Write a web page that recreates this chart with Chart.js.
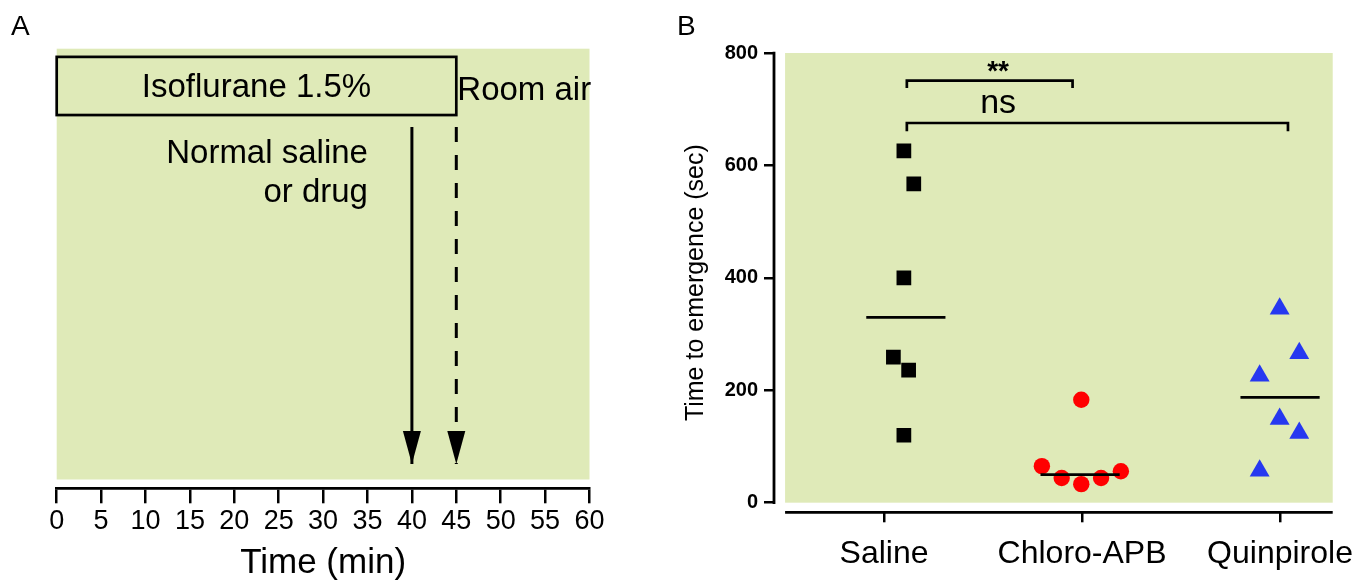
<!DOCTYPE html>
<html>
<head>
<meta charset="utf-8">
<script src="https://cdn.jsdelivr.net/npm/chart.js@4.4.1/dist/chart.umd.min.js"></script>
<style>
  html, body { margin: 0; padding: 0; background: #fff; }
  #wrap { position: relative; width: 1369px; height: 582px; overflow: hidden; }
  canvas { position: absolute; top: 0; }
  #panelA { left: 0; }
  #panelB { left: 620px; }
</style>
</head>
<body>
<div id="wrap">
  <canvas id="panelA" width="620" height="582"></canvas>
  <canvas id="panelB" width="749" height="582"></canvas>
</div>
<script>
// ---- panel A : protocol timeline (minutes) ----
const timeMin = 0;
const timeMax = 60;
const phaseNames = ['Isoflurane 1.5%', 'Room air'];
const phaseStart = [0, 45];
const phaseEnd = [45, 60];
const eventTimes = [40, 45];            // injection, isoflurane off
const eventDashed = [false, true];
const eventLabel = ['Normal saline', 'or drug'];

// ---- panel B : time to emergence (sec) ----
const groups = ['Saline', 'Chloro-APB', 'Quinpirole'];
const salineVals = [626, 567, 400, 259, 236, 120];
const salineX = [0.10, 0.15, 0.10, 0.047, 0.124, 0.10];
const chloroVals = [65, 44, 33, 183, 44, 56];
const chloroX = [0.797, 0.897, 0.996, 0.996, 1.096, 1.196];
const quinVals = [345, 266, 226, 149, 124, 57];
const quinX = [1.998, 2.097, 1.897, 1.998, 2.097, 1.897];
const medianX = [0.11, 0.99, 2.0];
const yTicks = [0, 200, 400, 600, 800];
const comparisons = [['**', 0, 1], ['ns', 0, 2]];

const FONT = '"Liberation Sans", Arial, Helvetica, sans-serif';
const GREEN = '#dfeab8';
Chart.defaults.font.family = FONT;
Chart.defaults.color = '#000';

function median(arr) {
    const s = arr.slice().sort((a, b) => a - b);
    const m = Math.floor(s.length / 2);
    return s.length % 2 ? s[m] : (s[m - 1] + s[m]) / 2;
}

// schematic y units for panel A go 0..100 (bottom..top of the green field)
const boxTop = 98.1, boxBottom = 84.6;
const arrowTop = 81.8, arrowTip = 3.6;

const panelAPlugin = {
    id: 'panelADecor',
    beforeDatasetsDraw(chart) {
        const {ctx, scales: {x, y}} = chart;
        ctx.save();
        ctx.fillStyle = GREEN;
        ctx.fillRect(x.getPixelForValue(timeMin), y.getPixelForValue(100),
            x.getPixelForValue(timeMax) - x.getPixelForValue(timeMin),
            y.getPixelForValue(0) - y.getPixelForValue(100));

        // isoflurane box
        const bx1 = x.getPixelForValue(phaseStart[0]), bx2 = x.getPixelForValue(phaseEnd[0]);
        const by1 = y.getPixelForValue(boxTop), by2 = y.getPixelForValue(boxBottom);
        ctx.strokeStyle = '#000';
        ctx.lineWidth = 2.7;
        ctx.strokeRect(bx1, by1, bx2 - bx1, by2 - by1);

        ctx.fillStyle = '#000';
        ctx.font = '33px ' + FONT;
        ctx.textBaseline = 'middle';
        ctx.textAlign = 'center';
        ctx.fillText(phaseNames[0], (bx1 + bx2) / 2, y.getPixelForValue(90.9));
        ctx.textAlign = 'left';
        ctx.fillText(phaseNames[1], x.getPixelForValue(phaseStart[1]) + 1, y.getPixelForValue(90.2));

        ctx.textAlign = 'right';
        ctx.fillText(eventLabel[0], x.getPixelForValue(35.05), y.getPixelForValue(75.6));
        ctx.fillText(eventLabel[1], x.getPixelForValue(35.05), y.getPixelForValue(66.5));

        ctx.font = '28px ' + FONT;
        ctx.textAlign = 'left';
        ctx.textBaseline = 'alphabetic';
        ctx.fillText('A', 11, 35);
        ctx.restore();
    },
    afterDatasetsDraw(chart) {
        const {ctx} = chart;
        ctx.save();
        ctx.fillStyle = '#000';
        chart.data.datasets.forEach((ds, i) => {
            const pts = chart.getDatasetMeta(i).data;
            const tip = pts[pts.length - 1];
            ctx.beginPath();
            ctx.moveTo(tip.x, tip.y);
            ctx.lineTo(tip.x - 9, tip.y - 33);
            ctx.lineTo(tip.x + 9, tip.y - 33);
            ctx.closePath();
            ctx.fill();
        });
        ctx.restore();
    }
};

new Chart(document.getElementById('panelA'), {
    type: 'scatter',
    data: {
        datasets: eventTimes.map((t, i) => ({
            data: [{x: t, y: arrowTop}, {x: t, y: arrowTip}],
            showLine: true,
            borderColor: '#000',
            borderWidth: 3,
            borderDash: eventDashed[i] ? [15, 13] : [],
            pointRadius: 0
        }))
    },
    options: {
        responsive: false,
        animation: false,
        devicePixelRatio: 1,
        layout: {padding: {left: 56.7, right: 30.5, top: 48.7, bottom: 0}},
        plugins: {legend: {display: false}, tooltip: {enabled: false}},
        scales: {
            x: {
                type: 'linear', min: timeMin, max: timeMax,
                afterFit: s => { s.height = 93.7; },
                grid: {display: true, drawOnChartArea: false, drawTicks: true, tickLength: 15, color: '#000', lineWidth: 2.5},
                border: {display: true, color: '#000', width: 2.7},
                ticks: {stepSize: 5, font: {size: 27}, padding: 2, maxRotation: 0, autoSkip: false, color: '#000'},
                title: {display: true, text: 'Time (min)', font: {size: 35}, padding: {top: 0, bottom: -2}, color: '#000'}
            },
            y: {type: 'linear', min: -2.04, max: 100, display: false}
        }
    },
    plugins: [panelAPlugin]
});

// ---- panel B ----
const groupVals = [salineVals, chloroVals, quinVals];
const bracketY = [750.8, 675.5];
const bracketDrop = [13, 14.5];
const bracketEnds = [0.115, 0.952, 2.04];

const panelBPlugin = {
    id: 'panelBDecor',
    beforeDatasetsDraw(chart) {
        const {ctx, chartArea, scales: {x, y}} = chart;
        ctx.save();
        const gx = x.getPixelForValue(-0.5);
        ctx.fillStyle = GREEN;
        ctx.fillRect(gx, y.getPixelForValue(800), chartArea.right - gx, y.getPixelForValue(0) - y.getPixelForValue(800));

        ctx.strokeStyle = '#000';
        ctx.lineWidth = 2.8;
        ctx.beginPath();
        ctx.moveTo(chartArea.left, y.getPixelForValue(800) - 1.2);
        ctx.lineTo(chartArea.left, y.getPixelForValue(0) + 1.2);
        ctx.moveTo(gx, chartArea.bottom);
        ctx.lineTo(chartArea.right, chartArea.bottom);
        ctx.stroke();

        ctx.fillStyle = '#000';
        ctx.font = '28px ' + FONT;
        ctx.textBaseline = 'alphabetic';
        ctx.fillText('B', 57, 35);
        ctx.restore();
    },
    afterDatasetsDraw(chart) {
        const {ctx, scales: {x, y}} = chart;
        ctx.save();
        ctx.strokeStyle = '#000';
        ctx.fillStyle = '#000';
        ctx.lineWidth = 2.7;
        comparisons.forEach((c, i) => {
            const x1 = x.getPixelForValue(bracketEnds[c[1]]);
            const x2 = x.getPixelForValue(bracketEnds[c[2]]);
            const yt = y.getPixelForValue(bracketY[i]);
            const yb = y.getPixelForValue(bracketY[i] - bracketDrop[i]);
            ctx.beginPath();
            ctx.moveTo(x1, yb);
            ctx.lineTo(x1, yt);
            ctx.lineTo(x2, yt);
            ctx.lineTo(x2, yb);
            ctx.stroke();
        });
        ctx.textAlign = 'center';
        ctx.textBaseline = 'alphabetic';
        ctx.font = 'bold 28px ' + FONT;
        ctx.fillText(comparisons[0][0], x.getPixelForValue(0.576), y.getPixelForValue(752));
        ctx.font = '34px ' + FONT;
        ctx.fillText(comparisons[1][0], x.getPixelForValue(0.576), y.getPixelForValue(693));
        ctx.restore();
    }
};

const pointSets = [
    {xs: salineX, ys: salineVals, style: 'rect', r: 10.4, color: '#000000'},
    {xs: chloroX, ys: chloroVals, style: 'circle', r: 8.2, color: '#ff0000'},
    {xs: quinX, ys: quinVals, style: 'triangle', r: 11.5, color: '#2638f0'}
];

const medianSets = groupVals.map((vals, i) => {
    const m = median(vals);
    return {
        data: [{x: medianX[i] - 0.2, y: m}, {x: medianX[i] + 0.2, y: m}],
        showLine: true, borderColor: '#000', borderWidth: 2.8, pointRadius: 0, order: 0
    };
});

const scatterSets = pointSets.map(p => ({
    data: p.xs.map((xv, i) => ({x: xv, y: p.ys[i]})),
    pointStyle: p.style,
    pointRadius: p.r,
    backgroundColor: p.color,
    borderWidth: 0,
    showLine: false,
    order: 1
}));

new Chart(document.getElementById('panelB'), {
    type: 'scatter',
    data: {datasets: medianSets.concat(scatterSets)},
    options: {
        responsive: false,
        animation: false,
        devicePixelRatio: 1,
        layout: {padding: {left: 0, right: 32, top: 53, bottom: 0}},
        plugins: {legend: {display: false}, tooltip: {enabled: false}},
        scales: {
            x: {
                type: 'linear', min: -0.556, max: 2.266,
                afterFit: s => { s.height = 69.7; },
                afterBuildTicks: s => { s.ticks = groups.map((g, i) => ({value: i})); },
                grid: {display: true, drawOnChartArea: false, drawTicks: true, tickLength: 10, color: '#000', lineWidth: 2.5},
                border: {display: false},
                ticks: {callback: v => groups[v], font: {size: 32}, padding: 13, maxRotation: 0, autoSkip: false, color: '#000'},
                title: {display: false}
            },
            y: {
                type: 'linear', min: -17.1, max: 800,
                afterFit: s => { s.width = 154; },
                afterBuildTicks: s => { s.ticks = yTicks.map(v => ({value: v})); },
                grid: {display: true, drawOnChartArea: false, drawTicks: true, tickLength: 10, color: '#000', lineWidth: 2.5},
                border: {display: false},
                ticks: {font: {size: 20, weight: 'bold'}, padding: 6, color: '#000'},
                title: {display: true, text: 'Time to emergence (sec)', font: {size: 25}, padding: {top: 61, bottom: 0}, color: '#000'}
            }
        }
    },
    plugins: [panelBPlugin]
});
</script>
</body>
</html>
